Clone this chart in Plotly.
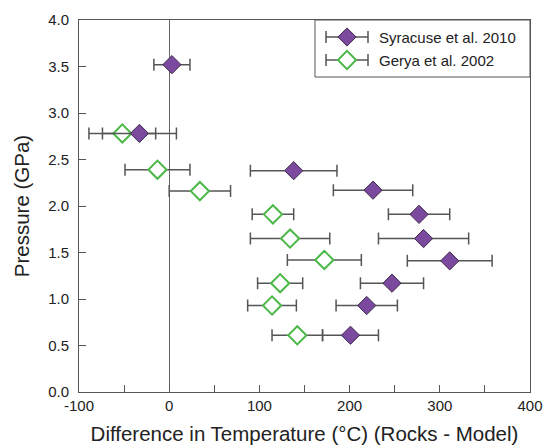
import plotly.graph_objects as go

# Temperature difference (Rocks - Model, °C), pressure (GPa) and ± uncertainty
syr_dt = [3, -33, 138, 226, 277, 282, 311, 247, 219, 201]
syr_p = [3.52, 2.78, 2.38, 2.17, 1.91, 1.65, 1.41, 1.17, 0.93, 0.61]
syr_err = [20, 41, 48, 44, 34, 50, 47, 35, 34, 31]

ger_dt = [-52, -13, 34, 115, 134, 172, 123, 114, 142]
ger_p = [2.78, 2.39, 2.16, 1.91, 1.65, 1.42, 1.17, 0.93, 0.61]
ger_err = [37, 36, 34, 23, 44, 41, 25, 27, 28]

series_names = ["Syracuse et al. 2010", "Gerya et al. 2002"]

x_ticks = [-100, 0, 100, 200, 300, 400]
x_tick_text = ["-100", "0", "100", "200", "300", "400"]

PURPLE = "#7B4A9E"
PURPLE_EDGE = "#3B2A4C"
GREEN = "#4CB848"
AXIS = "#555555"
FONT = "Liberation Sans, Arial, sans-serif"

W, H = 543, 445
L, R, T, B = 79, 13, 20, 53
PW, PH = W - L - R, H - T - B

err_style = dict(type="data", thickness=1.5, width=6, color=AXIS)

fig = go.Figure()

fig.add_trace(go.Scatter(
    x=ger_dt, y=ger_p, mode="markers", name=series_names[1],
    error_x=dict(array=ger_err, **err_style),
    marker=dict(symbol="diamond", size=14, color="white",
                line=dict(color=GREEN, width=2)),
    showlegend=False,
))
fig.add_trace(go.Scatter(
    x=syr_dt, y=syr_p, mode="markers", name=series_names[0],
    error_x=dict(array=syr_err, **err_style),
    marker=dict(symbol="diamond", size=14, color=PURPLE,
                line=dict(color=PURPLE_EDGE, width=1)),
    showlegend=False,
))

# Legend box drawn on a pixel-scaled overlay axis
leg_x0, leg_x1, leg_y0, leg_y1 = 236, PW, 0, 57
key_x, key_err = 268, 21
rows = [17, 40]
fig.add_shape(type="rect", xref="x2", yref="y2", layer="below",
              x0=leg_x0, x1=leg_x1, y0=leg_y0, y1=leg_y1,
              line=dict(color=AXIS, width=1), fillcolor="white")
fig.add_trace(go.Scatter(
    x=[key_x], y=[rows[0]], xaxis="x2", yaxis="y2", mode="markers",
    error_x=dict(type="constant", value=key_err, thickness=1.5, width=6, color=AXIS),
    marker=dict(symbol="diamond", size=14, color=PURPLE,
                line=dict(color=PURPLE_EDGE, width=1)),
    showlegend=False, hoverinfo="skip",
))
fig.add_trace(go.Scatter(
    x=[key_x], y=[rows[1]], xaxis="x2", yaxis="y2", mode="markers",
    error_x=dict(type="constant", value=key_err, thickness=1.5, width=6, color=AXIS),
    marker=dict(symbol="diamond", size=14, color="white",
                line=dict(color=GREEN, width=2)),
    showlegend=False, hoverinfo="skip",
))
for name, ry in zip(series_names, rows):
    fig.add_annotation(x=298, y=ry, xref="x2", yref="y2", text=name,
                       showarrow=False, xanchor="left", yanchor="middle",
                       font=dict(family=FONT, size=15, color="#222222"))

fig.update_layout(
    width=W, height=H,
    margin=dict(l=L, r=R, t=T, b=B, autoexpand=False),
    paper_bgcolor="white", plot_bgcolor="white",
    font=dict(family=FONT, size=15, color="#222222"),
    xaxis=dict(
        range=[-100, 400], tickvals=x_ticks, ticktext=x_tick_text,
        ticks="inside", ticklen=7, tickcolor=AXIS, tickwidth=1,
        minor=dict(dtick=50, tick0=-100, ticks="inside", ticklen=7,
                   tickcolor=AXIS, tickwidth=1),
        showline=True, linecolor=AXIS, linewidth=1, mirror=True,
        showgrid=False, zeroline=True, zerolinecolor="#666666", zerolinewidth=1,
        title=dict(text="Difference in Temperature (°C) (Rocks - Model)",
                   font=dict(size=20.5), standoff=14),
        tickfont=dict(size=15), automargin=False,
    ),
    yaxis=dict(
        range=[0, 4.0], dtick=0.5, tickformat=".1f",
        ticks="inside", ticklen=7, tickcolor=AXIS, tickwidth=1,
        showline=True, linecolor=AXIS, linewidth=1, mirror=True,
        showgrid=False, zeroline=False,
        title=dict(text="Pressure (GPa)", font=dict(size=20.5), standoff=12),
        tickfont=dict(size=15), ticklabelstandoff=6, automargin=False,
    ),
    xaxis2=dict(range=[0, PW], overlaying="x", visible=False, fixedrange=True),
    yaxis2=dict(range=[PH, 0], overlaying="y", visible=False, fixedrange=True),
)

fig.write_html("out.html")
